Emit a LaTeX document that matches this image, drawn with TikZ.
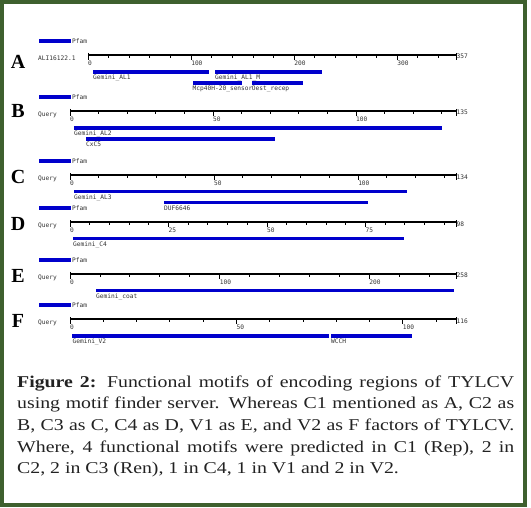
\documentclass[tikz,border=0pt]{standalone}
\usepackage{fontspec}
\setmainfont{Liberation Serif}
\newfontfamily\capfont[FakeStretch=1.2]{Liberation Serif}
\newfontfamily\labfont{DejaVu Sans Mono}
\definecolor{barblue}{RGB}{0,0,204}
\definecolor{framegreen}{RGB}{62,96,46}
\definecolor{captext}{RGB}{34,34,34}
\tikzset{
  lbl/.style={font=\labfont\fontsize{6.2}{7}\selectfont, inner sep=0pt, text=black!80, anchor=north west},
  seqname/.style={font=\labfont\fontsize{6.2}{7}\selectfont, inner sep=0pt, text=black!80, anchor=west},
  rowletter/.style={font=\bfseries\fontsize{20}{20}\selectfont, inner sep=0pt},
  axisline/.style={line width=2pt},
  tickline/.style={line width=0.8pt},
  capline/.style={font=\capfont\fontsize{16.5}{20}\selectfont, text=captext, inner sep=0pt, anchor=base west}
}
% #1 id, #2 letter, #3 sequence name, #4 axis y, #5 axis x0, #6 max, #7 minor step, #8 major step, #9 letter dy
\newcommand\domrow[9]{%
  \fill[barblue] (39,#4-16) rectangle (71,#4-12);
  \node[seqname] (#1pf) at (72,#4-14) {Pfam};
  \node[rowletter] (#1let) at (18,#4+#9) {#2};
  \node[seqname] (#1seq) at (38,#4+3.5) {#3};
  \draw[axisline] (#5,#4) -- (456,#4);
  \foreach \u in {0,#7,...,#6}{\draw[tickline] ({#5+(\u/#6)*(456-#5)},#4) -- ++(0,3);}
  \foreach \u in {0,#8,...,#6}{%
    \draw[tickline] ({#5+(\u/#6)*(456-#5)},#4) -- ++(0,5);
    \node[lbl] (#1t\u) at ({#5+(\u/#6)*(456-#5)},#4+5.5) {\u};}
  \draw[tickline] (#5,#4-2) -- (#5,#4+5);
  \draw[tickline] (456,#4-2) -- (456,#4+5);
  \node[seqname] (#1max) at (456.5,#4+1.5) {#6};
}
% #1 id, #2 x1, #3 x2, #4 y, #5 label
\newcommand\dombar[5]{%
  \fill[barblue] (#2,#4-1.9) rectangle (#3,#4+1.9);
  \node[lbl] (#1) at (#2,#4+3) {#5};
}
\begin{document}
\begin{tikzpicture}[x=1pt,y=-1pt]
\useasboundingbox (0,0) rectangle (531,508);
\fill[white] (0,0) rectangle (531,508);
\draw[framegreen, line width=4pt] (2,2) rectangle (525,505);

% A
\domrow{a}{A}{ALI16122.1}{55}{88}{357}{20}{100}{7}
\dombar{a1}{93}{208.5}{72}{Gemini\_AL1}
\dombar{a2}{215}{322}{72}{Gemini\_AL1\_M}
\dombar{a3}{192.5}{241.5}{83}{Mcp40H-20\_sensor}
\dombar{a4}{251.7}{302.7}{83}{Oest\_recep}

% B
\domrow{b}{B}{Query}{111}{70}{135}{10}{50}{0}
\dombar{b1}{74}{441.5}{128}{Gemini\_AL2}
\dombar{b2}{86}{275}{139}{CxC5}

% C
\domrow{c}{C}{Query}{175.5}{70}{134}{10}{50}{1.5}
\dombar{c1}{74}{406.5}{191.5}{Gemini\_AL3}
\dombar{c2}{164}{368}{202.5}{DUF6646}

% D
\domrow{d}{D}{Query}{222.5}{70}{98}{5}{25}{1.5}
\dombar{d1}{73}{404}{238.5}{Gemini\_C4}

% E
\domrow{e}{E}{Query}{274}{70}{258}{20}{100}{1.5}
\dombar{e1}{96}{454}{290.5}{Gemini\_coat}

% F
\domrow{f}{F}{Query}{319.5}{70}{116}{10}{50}{1}
\dombar{f1}{72.4}{329}{336}{Gemini\_V2}
\dombar{f2}{331}{411.6}{336}{WCCH}

% caption
\node[capline] (cap1) at (17,387) {\makebox[497pt][s]{\textbf{Figure 2:} Functional motifs of encoding regions of TYLCV}};
\node[capline] (cap2) at (17,408.5) {\makebox[497pt][s]{using motif finder server. Whereas C1 mentioned as A, C2 as}};
\node[capline] (cap3) at (17,430) {\makebox[497pt][s]{B, C3 as C, C4 as D, V1 as E, and V2 as F factors of TYLCV.}};
\node[capline] (cap4) at (17,452) {\makebox[497pt][s]{Where, 4 functional motifs were predicted in C1 (Rep), 2 in}};
\node[capline] (cap5) at (17,473) {C2, 2 in C3 (Ren), 1 in C4, 1 in V1 and 2 in V2.};
\end{tikzpicture}
\end{document}
